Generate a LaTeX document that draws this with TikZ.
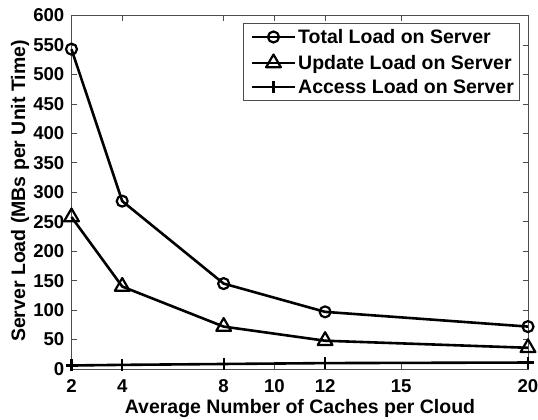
\documentclass[tikz,border=0pt]{standalone}
\usepackage{fontspec}
\setmainfont{Liberation Sans}
\usetikzlibrary{plotmarks}

\tikzset{
  loadline/.style={line width=2.6pt, black, line join=round},
  loadmark/.style={mark size=5.5pt, mark options={solid, line width=2.2pt}},
  ticklabel/.style={inner sep=0pt, font=\bfseries\fontsize{18.6}{19}\selectfont},
  axislabel/.style={inner sep=0pt, font=\bfseries\fontsize{19.5}{20}\selectfont},
  frame/.style={draw=black!70, line width=0.7pt},
}

\begin{document}
\begin{tikzpicture}[x=1pt, y=1pt]
    \useasboundingbox (0,0) rectangle (538,420);
    % Axes, in data units
    \begin{scope}[xshift=20.78pt, yshift=51pt, x=25.36pt, y=0.589pt]
        \draw[frame] (2,0) rectangle (20,600);
        % x ticks
        \foreach \x in {2,4,8,10,12,15,20}
        {
            \draw[frame] (\x,0) -- ++(0,8.5);
            \draw[frame] (\x,600) -- ++(0,-8.5);
            \node[ticklabel, anchor=base] (xt\x) at ([yshift=-24pt]\x,0) {\x};
        }
        % y ticks
        \foreach \y in {0,50,...,600}
        {
            \draw[frame] (2,\y) -- ++(0.2,0);
            \draw[frame] (20,\y) -- ++(-0.2,0);
            \node[ticklabel, anchor=east] (yt\y) at ([xshift=-7pt]2,\y) {\y};
        }
        % Total load
        \draw[loadline] plot[mark=o, loadmark] coordinates {(2,543) (4,285) (8,145) (12,97) (20,72)};
        % Update load
        \draw[loadline] plot[mark=triangle, loadmark, mark size=8.5pt] coordinates {(2,258) (4,140) (8,72) (12,48) (20,36)};
        % Access load
        \draw[loadline] plot[mark=+, loadmark, mark size=6pt] coordinates {(2,6) (4,7) (8,8.5) (12,10) (20,11)};
    \end{scope}

    % Axis labels
    \node[axislabel, anchor=base] (xlabel) at (300,6) {Average Number of Caches per Cloud};
    \node[axislabel, anchor=base, rotate=90] (ylabel) at (25,229) {Server Load (MBs per Unit Time)};

    % Legend
    \draw[frame, fill=white] (243,320) rectangle (519,397);
    \foreach \m/\s/\yy/\t [count=\i] in {o/5.5/383/Total Load on Server, triangle/8.5/357/Update Load on Server, +/6/333/Access Load on Server}
    {
        \draw[loadline] (252,\yy) -- (295,\yy);
        \draw[loadline] plot[mark=\m, loadmark, mark size=\s pt] coordinates {(273.5,\yy)};
        \node[axislabel, anchor=base west] (leg\i) at (298,\yy-7) {\t};
    }
\end{tikzpicture}
\end{document}
